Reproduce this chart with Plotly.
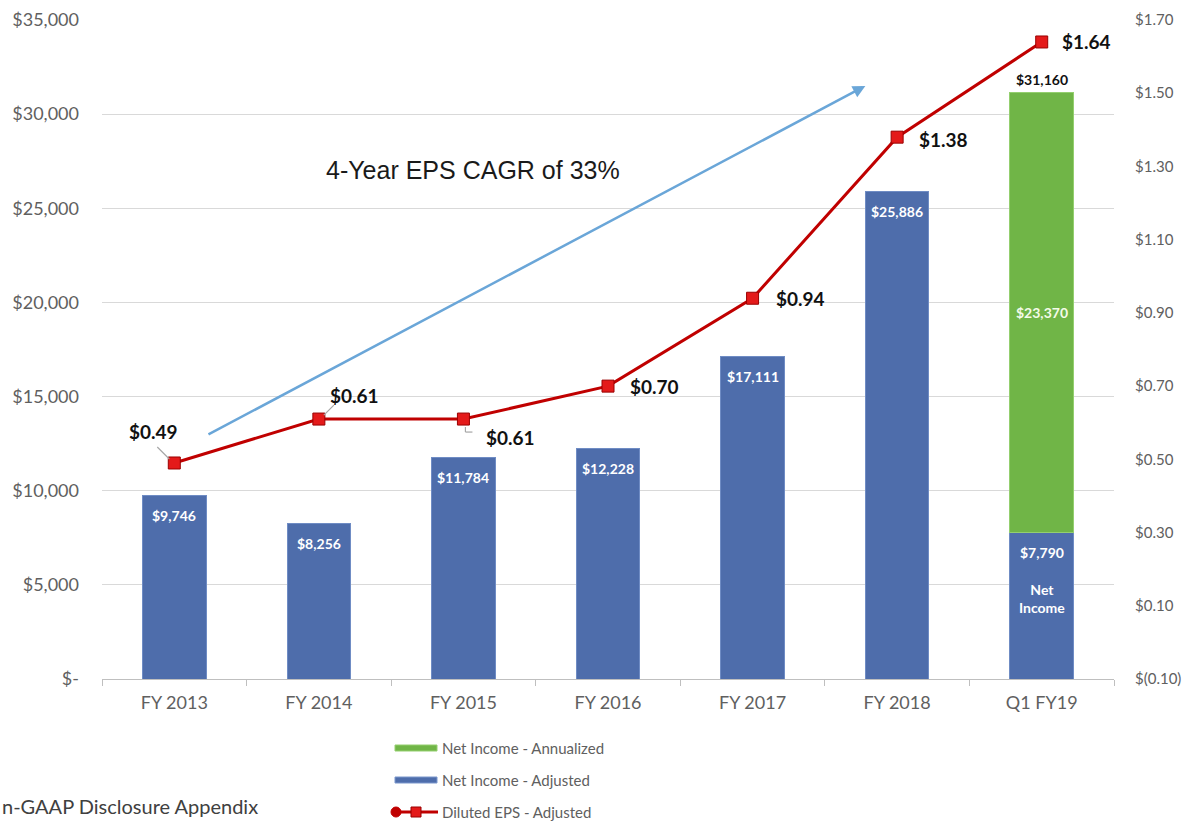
import plotly.graph_objects as go

# ---- data ----
categories = ["FY 2013", "FY 2014", "FY 2015", "FY 2016", "FY 2017", "FY 2018", "Q1 FY19"]
net_income_adjusted = [9746, 8256, 11784, 12228, 17111, 25886, 7790]
net_income_annualized = [None, None, None, None, None, None, 23370]
diluted_eps = [0.49, 0.61, 0.61, 0.70, 0.94, 1.38, 1.64]

left_tick_vals = [0, 5000, 10000, 15000, 20000, 25000, 30000, 35000]
left_tick_text = ["$-", "$5,000", "$10,000", "$15,000", "$20,000", "$25,000", "$30,000", "$35,000"]
right_tick_vals = [-0.10, 0.10, 0.30, 0.50, 0.70, 0.90, 1.10, 1.30, 1.50, 1.70]
right_tick_text = ["$(0.10)", "$0.10", "$0.30", "$0.50", "$0.70", "$0.90", "$1.10", "$1.30", "$1.50", "$1.70"]

cagr_text = "4-Year EPS CAGR of 33%"
footer_text = "n-GAAP Disclosure Appendix"

BLUE = "#4e6dab"
GREEN = "#70b547"
RED_LINE = "#c00000"
RED_MARK = "#e41a1a"
TICK_GREY = "#606060"
FONT = "Lato, 'Open Sans', sans-serif"

# plot-area geometry in pixels (used only for paper-space placement of the legend/footer)
W, H = 1191, 823
ML, MR, MT, MB = 102, 77, 20, 144
PW, PH = W - ML - MR, H - MT - MB


def px_x(px):
    return (px - ML) / PW


def px_y(py):
    return (H - MB - py) / PH


def money(v):
    return "${:,.0f}".format(v)


fig = go.Figure()

fig.add_trace(go.Bar(
    x=categories, y=net_income_adjusted, name="Net Income - Adjusted",
    marker=dict(color=BLUE, line=dict(color="#6f8cc4", width=1)),
    showlegend=False, hoverinfo="skip"))
fig.add_trace(go.Bar(
    x=categories, y=net_income_annualized, name="Net Income - Annualized",
    marker=dict(color=GREEN, line=dict(color="#94cf6f", width=1)),
    showlegend=False, hoverinfo="skip"))
fig.add_trace(go.Scatter(
    x=categories, y=diluted_eps, yaxis="y2", mode="lines+markers",
    name="Diluted EPS - Adjusted",
    line=dict(color=RED_LINE, width=3),
    marker=dict(symbol="square", size=12, color=RED_MARK, line=dict(color="#9a0000", width=1)),
    showlegend=False, hoverinfo="skip"))

annotations = []
shapes = []

# white value labels near the top of each adjusted bar
for i, (cat, v) in enumerate(zip(categories, net_income_adjusted)):
    annotations.append(dict(x=cat, y=v, xref="x", yref="y", text="<b>" + money(v) + "</b>",
                            showarrow=False, yshift=-20,
                            font=dict(family=FONT, size=14, color="white")))

# Q1 FY19 stacked bar: inner caption, annualized value and total
q1 = categories[-1]
annotations.append(dict(x=q1, y=net_income_adjusted[-1], xref="x", yref="y",
                        text="<b>Net<br>Income</b>", showarrow=False, yshift=-66,
                        font=dict(family=FONT, size=14, color="white")))
annotations.append(dict(x=q1, y=net_income_adjusted[-1] + net_income_annualized[-1] / 2,
                        xref="x", yref="y", text="<b>" + money(net_income_annualized[-1]) + "</b>",
                        showarrow=False, font=dict(family=FONT, size=14, color="#f4fbe9")))
total_q1 = net_income_adjusted[-1] + net_income_annualized[-1]
annotations.append(dict(x=q1, y=total_q1, xref="x", yref="y", text="<b>" + money(total_q1) + "</b>",
                        showarrow=False, yshift=13,
                        font=dict(family=FONT, size=14, color="#111111")))

# EPS data labels (pixel offsets from each marker)
eps_offsets = [(-21, 31), (36, 24), (47, -18), (46, 0), (48, 0), (46, -2), (45, 0)]
for cat, v, (dx, dy) in zip(categories, diluted_eps, eps_offsets):
    annotations.append(dict(x=cat, y=v, xref="x", yref="y2", text="<b>${:.2f}</b>".format(v),
                            showarrow=False, xshift=dx, yshift=dy,
                            font=dict(family=FONT, size=19, color="#111111")))

# leader lines from labels to markers
leaders = [
    (0, [(-17, 16, -5, 4)]),
    (1, [(15, 14, 5, 4)]),
    (2, [(2, -8, 2, -13), (2, -13, 9, -13)]),
]
for idx, segs in leaders:
    for x0, y0, x1, y1 in segs:
        shapes.append(dict(type="line", xref="x", yref="y2",
                           xsizemode="pixel", ysizemode="pixel",
                           xanchor=idx, yanchor=diluted_eps[idx],
                           x0=x0, y0=y0, x1=x1, y1=y1,
                           line=dict(color="#a6a6a6", width=1.2)))

# growth arrow and caption
annotations.append(dict(x=4.78, y=31500, xref="x", yref="y",
                        ax=0.226, ay=12950, axref="x", ayref="y",
                        showarrow=True, arrowhead=2, arrowsize=1, arrowwidth=2.5,
                        arrowcolor="#6aa6d8", text=""))
annotations.append(dict(x=px_x(473), y=px_y(170), xref="paper", yref="paper",
                        xanchor="center", yanchor="middle",
                        text=cagr_text, showarrow=False,
                        font=dict(family="'Liberation Sans', Arial, sans-serif", size=25, color="#1a1a1a")))

# custom legend below the chart
legend_items = [
    ("bar", GREEN, "#94cf6f", "Net Income - Annualized", 748),
    ("bar", BLUE, "#7b97cc", "Net Income - Adjusted", 780),
    ("line", RED_LINE, None, "Diluted EPS - Adjusted", 812),
]
for kind, color, edge, label, ycen in legend_items:
    if kind == "bar":
        shapes.append(dict(type="rect", xref="paper", yref="paper",
                           x0=px_x(395), x1=px_x(437), y0=px_y(ycen + 3), y1=px_y(ycen - 3),
                           fillcolor=color, line=dict(color=edge, width=1)))
    else:
        shapes.append(dict(type="line", xref="paper", yref="paper",
                           x0=px_x(392), x1=px_x(438), y0=px_y(ycen), y1=px_y(ycen),
                           line=dict(color=color, width=3)))
        shapes.append(dict(type="circle", xref="paper", yref="paper",
                           x0=px_x(391), x1=px_x(401), y0=px_y(ycen + 5), y1=px_y(ycen - 5),
                           fillcolor=color, line=dict(color=color, width=1)))
        shapes.append(dict(type="rect", xref="paper", yref="paper",
                           x0=px_x(411), x1=px_x(421), y0=px_y(ycen + 5), y1=px_y(ycen - 5),
                           fillcolor=RED_MARK, line=dict(color="#9a0000", width=1)))
    annotations.append(dict(x=px_x(440), y=px_y(ycen), xref="paper", yref="paper",
                            xanchor="left", yanchor="middle", text=label, showarrow=False,
                            font=dict(family=FONT, size=15, color=TICK_GREY)))

# footer caption
annotations.append(dict(x=px_x(0), y=px_y(806), xref="paper", yref="paper",
                        xanchor="left", yanchor="middle", text=footer_text, showarrow=False,
                        font=dict(family=FONT, size=20, color="#404040")))

fig.update_layout(
    width=W, height=H,
    margin=dict(l=ML, r=MR, t=MT, b=MB, pad=0),
    paper_bgcolor="white", plot_bgcolor="white",
    barmode="stack", bargap=0.56,
    font=dict(family=FONT, color=TICK_GREY),
    xaxis=dict(type="category", tickfont=dict(size=18, color=TICK_GREY),
               showline=True, linecolor="#bfbfbf", linewidth=1,
               ticks="outside", tickson="boundaries", ticklen=6, tickcolor="#bfbfbf",
               ticklabelstandoff=7, showgrid=False, automargin=False, fixedrange=True),
    yaxis=dict(range=[0, 35000], tickvals=left_tick_vals, ticktext=left_tick_text,
               tickfont=dict(size=18, color=TICK_GREY), showgrid=True, gridcolor="#d9d9d9",
               gridwidth=1, zeroline=False, showline=False, ticks="", ticklabelstandoff=22,
               automargin=False, fixedrange=True),
    yaxis2=dict(range=[-0.10, 1.70], tickvals=right_tick_vals, ticktext=right_tick_text,
                overlaying="y", side="right", tickfont=dict(size=15, color=TICK_GREY),
                showgrid=False, zeroline=False, showline=False, ticks="", ticklabelstandoff=20,
                automargin=False, fixedrange=True),
    annotations=annotations,
    shapes=shapes,
)

fig.write_html("out.html")
